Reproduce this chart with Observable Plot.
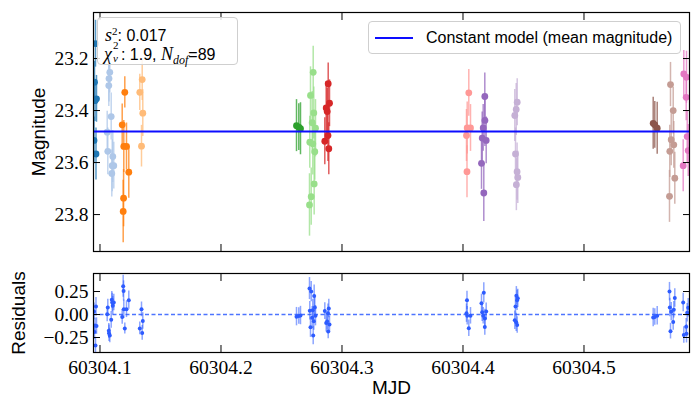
<!DOCTYPE html>
<html><head><meta charset="utf-8">
<script src="https://cdn.jsdelivr.net/npm/d3@7"></script>
<script src="https://cdn.jsdelivr.net/npm/@observablehq/plot@0.6"></script>
<style>
body{margin:0;background:#fff;}
#wrap{position:relative;width:692px;height:399px;overflow:hidden;background:#fff;}
#wrap svg{position:absolute;left:0;overflow:visible;}
.box{position:absolute;box-sizing:border-box;border:1px solid #cfcfcf;border-radius:4px;background:rgba(255,255,255,0.85);}
.sans{font-family:"Liberation Sans",Arial,sans-serif;font-size:16px;color:#000;line-height:16px;white-space:nowrap;position:absolute;}
.m{font-family:"Liberation Serif",serif;font-style:italic;font-size:18px;}
.ss{position:relative;display:inline-block;height:1em;}
.ss span{position:absolute;left:1px;font-size:11px;}
</style></head><body>
<div id="wrap"></div>
<script>
const groupNames = ["g1","g2","g3","g4","g5","g6","g7","g8","g9","g10","g11","g12","g13"];
const groupColors = ["#1f77b4","#aec7e8","#ff7f0e","#ffbb78","#2ca02c","#98df8a","#d62728","#ff9896","#9467bd","#c5b0d5","#8c564b","#c49c94","#e377c2"];
const mjd = [
  [60304.09628,60304.09545,60304.09711,60304.09587,60304.09504,60304.09669],
  [60304.10810,60304.10744,60304.10727,60304.10926,60304.10595,60304.10645,60304.11058,60304.11140,60304.11008,60304.10975],
  [60304.12050,60304.11835,60304.11967,60304.12190,60304.12380,60304.11950,60304.11917],
  [60304.13488,60304.13289,60304.13537,60304.13430],
  [60304.26240,60304.26430,60304.26570],
  [60304.27620,60304.27397,60304.27669,60304.27537,60304.27810,60304.27339,60304.27587,60304.27752,60304.27700,60304.27455,60304.27314],
  [60304.28860,60304.28967,60304.28694,60304.28777,60304.28840,60304.28579,60304.28909],
  [60304.40479,60304.40347,60304.40620,60304.40289,60304.40330],
  [60304.41802,60304.41810,60304.41669,60304.41587,60304.41917,60304.41529,60304.41719],
  [60304.44479,60304.44397,60304.44281,60304.44339,60304.44470,60304.44529,60304.44410],
  [60304.55719,60304.55851,60304.56050],
  [60304.57149,60304.57372,60304.57207,60304.57421,60304.57091,60304.57504,60304.57066],
  [60304.58248,60304.58471,60304.58446,60304.58529,60304.58612,60304.58198]
];
const mag = [
  [23.143,23.291,23.355,23.362,23.515,23.567],
  [23.253,23.277,23.304,23.423,23.483,23.557,23.577,23.612,23.612,23.642],
  [23.330,23.455,23.538,23.538,23.637,23.737,23.788],
  [23.281,23.330,23.410,23.537],
  [23.458,23.464,23.470],
  [23.253,23.342,23.409,23.447,23.468,23.522,23.528,23.558,23.682,23.731,23.763],
  [23.297,23.372,23.390,23.404,23.496,23.518,23.547],
  [23.332,23.467,23.467,23.496,23.635],
  [23.346,23.438,23.467,23.506,23.515,23.603,23.717],
  [23.368,23.396,23.419,23.567,23.635,23.657,23.685],
  [23.449,23.455,23.468],
  [23.300,23.400,23.512,23.532,23.557,23.660,23.730],
  [23.259,23.272,23.349,23.500,23.554,23.612]
];
const err = [
  [0.09,0.08,0.09,0.08,0.09,0.10],
  [0.08,0.09,0.08,0.09,0.08,0.09,0.10,0.09,0.10,0.09],
  [0.06,0.08,0.10,0.09,0.10,0.11,0.12],
  [0.08,0.07,0.09,0.08],
  [0.10,0.09,0.10],
  [0.10,0.11,0.10,0.12,0.11,0.10,0.12,0.11,0.12,0.11,0.12],
  [0.08,0.09,0.10,0.09,0.10,0.09,0.10],
  [0.09,0.10,0.09,0.10,0.10],
  [0.09,0.10,0.09,0.10,0.09,0.10,0.11],
  [0.09,0.10,0.10,0.10,0.11,0.10,0.10],
  [0.10,0.09,0.10],
  [0.085,0.09,0.10,0.09,0.10,0.10,0.10],
  [0.09,0.10,0.09,0.10,0.10,0.10]
];
const meanMag = 23.481;
const xTicks = [60304.1,60304.2,60304.3,60304.4,60304.5];
const magTicks = [23.2,23.4,23.6,23.8];
const residTicks = [0.25,0,-0.25];
const legendLabel = "Constant model (mean magnitude)";

const rows = [];
groupNames.forEach((g,i)=>mjd[i].forEach((t,j)=>rows.push({group:g,mjd:t,mag:mag[i][j],err:err[i][j],resid:mag[i][j]-meanMag})));

const xDomain = [60304.09463, 60304.58719];
const sans = "Liberation Sans";
const serif = "Liberation Serif";
const blank = () => "";

const topPlot = Plot.plot({
  width:692, height:262, marginLeft:93, marginRight:3, marginTop:12, marginBottom:11,
  x:{domain:xDomain},
  y:{domain:[23.023,23.942], reverse:true},
  color:{domain:groupNames, range:groupColors},
  style:{fontSize:"19px", color:"#000", background:"transparent"},
  marks:[
    Plot.ruleX(rows,{x:"mjd", y1:d=>d.mag-d.err, y2:d=>d.mag+d.err, stroke:"group", strokeWidth:1.5, strokeOpacity:0.75, clip:true}),
    Plot.dot(rows,{x:"mjd", y:"mag", fill:"group", r:3.4, clip:true}),
    Plot.ruleY([meanMag],{stroke:"#0d0dff", strokeWidth:2}),
    Plot.frame({stroke:"#000", strokeWidth:1.2}),
    Plot.axisX(xTicks,{anchor:"bottom", tickSize:-7, tickFormat:blank, label:null}),
    Plot.axisX(xTicks,{anchor:"top", tickSize:-7, tickFormat:blank, label:null}),
    Plot.axisY(magTicks,{anchor:"left", tickSize:-7, tickPadding:12, tickFormat:d=>d.toFixed(1), label:null, fontFamily:serif, fontSize:19.5}),
    Plot.axisY(magTicks,{anchor:"right", tickSize:-7, tickFormat:blank, label:null}),
    Plot.text(["Magnitude"],{frameAnchor:"left", dx:-55, rotate:-90, textAnchor:"middle", lineAnchor:"middle", fontFamily:sans, fontSize:19, fill:"#000"})
  ]
});
topPlot.style.top = "0px";

const botPlot = Plot.plot({
  width:692, height:137, marginLeft:93, marginRight:3, marginTop:11, marginBottom:47,
  x:{domain:xDomain},
  y:{domain:[-0.413,0.446]},
  style:{fontSize:"19px", color:"#000", background:"transparent"},
  marks:[
    Plot.ruleY([0],{stroke:"#4d74ff", strokeWidth:1.3, strokeDasharray:"4,2.5"}),
    Plot.ruleX(rows,{x:"mjd", y1:d=>d.resid-d.err, y2:d=>d.resid+d.err, stroke:"#2d5bff", strokeWidth:1.5, strokeOpacity:0.55, clip:true}),
    Plot.dot(rows,{x:"mjd", y:"resid", fill:"#2d5bff", r:2, clip:true}),
    Plot.frame({stroke:"#000", strokeWidth:1.2}),
    Plot.axisX(xTicks,{anchor:"bottom", tickSize:-7, tickPadding:15, tickFormat:d=>d.toFixed(1), label:null, fontFamily:serif, fontSize:19.5}),
    Plot.axisX(xTicks,{anchor:"top", tickSize:-7, tickFormat:blank, label:null}),
    Plot.axisY(residTicks,{anchor:"left", tickSize:-7, tickPadding:12, tickFormat:d=>(d<0?"\u2212":"")+Math.abs(d).toFixed(2), label:null, fontFamily:serif, fontSize:19.5}),
    Plot.axisY(residTicks,{anchor:"right", tickSize:-7, tickFormat:blank, label:null}),
    Plot.text(["Residuals"],{frameAnchor:"left", dx:-75, rotate:-90, textAnchor:"middle", lineAnchor:"middle", fontFamily:sans, fontSize:19, fill:"#000"}),
    Plot.text(["MJD"],{frameAnchor:"bottom", dy:35, textAnchor:"middle", lineAnchor:"middle", fontFamily:sans, fontSize:19, fill:"#000"})
  ]
});
botPlot.style.top = "262px";

const wrap = document.getElementById("wrap");
wrap.appendChild(topPlot);
wrap.appendChild(botPlot);

// stats box
const stats = document.createElement("div");
stats.className = "box";
Object.assign(stats.style,{left:"97px",top:"17px",width:"141px",height:"48px"});
stats.innerHTML =
  '<div class="sans" style="left:7px;top:5px"><span class="m">s</span><sup style="font-size:11px;font-family:\'Liberation Serif\',serif">2</sup>: 0.017</div>' +
  '<div class="sans" style="left:6px;top:26px"><span class="m">χ</span><span class="ss" style="width:9px"><span style="top:-7px;font-family:\'Liberation Serif\',serif">2</span><span style="top:6px;font-family:\'Liberation Serif\',serif;font-style:italic">ν</span></span>: 1.9, <span class="m">N</span><span style="font-family:\'Liberation Serif\',serif;font-style:italic;font-size:12px;position:relative;top:4px">dof</span>=89</div>';
wrap.appendChild(stats);

// legend box
const leg = document.createElement("div");
leg.className = "box";
Object.assign(leg.style,{left:"368px",top:"21px",width:"313px",height:"33px"});
leg.innerHTML = '<div style="position:absolute;left:6px;top:15px;width:38px;height:2px;background:#0d0dff"></div>' +
  '<div class="sans" style="left:57px;top:8px">' + legendLabel + '</div>';
wrap.appendChild(leg);
</script>
</body></html>
